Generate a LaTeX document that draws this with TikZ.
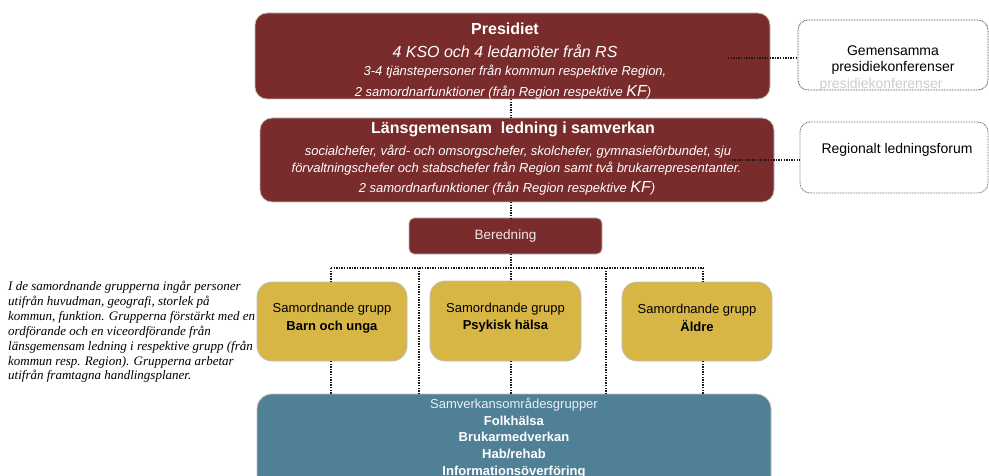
\documentclass[tikz,border=0pt]{standalone}
\usepackage{fontspec}
\setmainfont{Liberation Sans}
\newfontfamily\notefont{Liberation Serif}
\usepackage{tikz}
\usetikzlibrary{positioning}
\definecolor{RodLedning}{RGB}{122,44,44}
\definecolor{GulGrupp}{RGB}{216,182,70}
\definecolor{BlaSamverkan}{RGB}{80,128,150}
\definecolor{LjusRod}{RGB}{242,230,230}
\definecolor{LjusBla}{RGB}{232,240,244}
\newcommand{\fsz}[1]{\fontsize{#1}{#1}\selectfont}

\begin{document}
\begin{tikzpicture}[x=1pt,y=-1pt,
  box/.style={rectangle,inner sep=0pt,outer sep=0pt,draw=black!25,line width=0.8pt},
  redbox/.style={box,fill=RodLedning,rounded corners=12pt},
  goldbox/.style={box,fill=GulGrupp,rounded corners=15pt},
  bluebox/.style={box,fill=BlaSamverkan,rounded corners=15pt},
  forumbox/.style={rectangle,inner sep=0pt,outer sep=0pt,fill=white,rounded corners=10pt,
    line width=0.8pt,dash pattern=on 0.8pt off 0.8pt},
  conn/.style={line width=1.4pt,dash pattern=on 1.4pt off 1.2pt,black!90},
  wtext/.style={text=white,inner sep=0pt}]
  \useasboundingbox (0,0) rectangle (989,476);
  \clip (0,0) rectangle (989,476);

  % styrande nivaer
  \node[redbox,minimum width=515pt,minimum height=86pt] (pres) at (512.5,56) {};
  \node[redbox,minimum width=514pt,minimum height=84pt] (lans) at (517,160) {};
  \node[redbox,rounded corners=5pt,minimum width=193pt,minimum height=36pt,
    text=LjusRod,font=\fsz{13.5}] (ber) at (505.5,236) {Beredning};

  \node[wtext,font=\fsz{16}\bfseries] (presT1) at (505,29) {Presidiet};
  \node[wtext,font=\fsz{16}\itshape] (presT2) at (505,51) {4 KSO och 4 ledamöter från RS};
  \node[wtext,font=\fsz{13}\itshape] (presT3) at (515,72) {3-4 tjänstepersoner från kommun respektive Region,};
  \node[wtext,font=\fsz{13}\itshape] (presT4) at (503,92) {2 samordnarfunktioner (från Region respektive {\fsz{16}KF})};

  \node[wtext,font=\fsz{16}\bfseries] (lansT1) at (513,129) {Länsgemensam\ \ ledning i samverkan};
  \node[wtext,font=\fsz{13}\itshape] (lansT2) at (518,152) {socialchefer, vård- och omsorgschefer, skolchefer, gymnasieförbundet, sju};
  \node[wtext,font=\fsz{13}\itshape] (lansT3) at (516.5,169) {förvaltningschefer och stabschefer från Region samt två brukarrepresentanter.};
  \node[wtext,font=\fsz{13}\itshape] (lansT4) at (507,188) {2 samordnarfunktioner (från Region respektive {\fsz{16}KF})};

  % forum till hoger
  \node[forumbox,draw=black!75,minimum width=190pt,minimum height=70pt] (gem) at (893,55) {};
  \node[text=black!20,font=\fsz{14},inner sep=0pt] (gemG) at (881,85) {presidiekonferenser};
  \node[font=\fsz{14},align=center,inner sep=0pt] (gemT) at (893,60) {Gemensamma\\[2pt]presidiekonferenser};
  \node[forumbox,draw=black!60,minimum width=188pt,minimum height=71pt] (reg) at (894,157.5) {};
  \node[font=\fsz{14},inner sep=0pt] (regT) at (897,150) {Regionalt ledningsforum};

  % samordnande grupper
  \node[goldbox,minimum width=150pt,minimum height=79pt] (barn) at (332,321.5) {};
  \node[goldbox,minimum width=151pt,minimum height=80pt] (psyk) at (505.5,321) {};
  \node[goldbox,minimum width=150pt,minimum height=79pt] (aldre) at (697,321.5) {};
  \node[font=\fontsize{13}{17.5}\selectfont,align=center,inner sep=0pt] (barnT) at (332,318)
    {Samordnande\ grupp\\\textbf{Barn och unga}};
  \node[font=\fontsize{13}{17.5}\selectfont,align=center,inner sep=0pt] (psykT) at (505.5,317.5)
    {Samordnande\ grupp\\\textbf{Psykisk hälsa}};
  \node[font=\fontsize{13}{17.5}\selectfont,align=center,inner sep=0pt] (aldreT) at (697,318)
    {Samordnande\ grupp\\\textbf{Äldre}};

  \node[bluebox,minimum width=514pt,minimum height=110pt] (samv) at (514,449) {};
  \node[text=white,font=\fontsize{13}{16.6}\selectfont,align=center,inner sep=0pt,anchor=north] (samvT) at (514,398)
    {{\color{LjusBla}Samverkansområdesgrupper}\\\textbf{Folkhälsa}\\\textbf{Brukarmedverkan}\\\textbf{Hab/rehab}\\\textbf{Informationsöverföring}};

  % not till vanster
  \node[font=\fontsize{13}{14.9}\selectfont\notefont\itshape,align=left,inner sep=0pt,anchor=north west] (not) at (8,281)
    {I de samordnande grupperna ingår personer\\
     utifrån huvudman, geografi, storlek på\\
     kommun, funktion. Grupperna förstärkt med en\\
     ordförande och en viceordförande från\\
     länsgemensam ledning i respektive grupp (från\\
     kommun resp. Region). Grupperna arbetar\\
     utifrån framtagna handlingsplaner.};

  % kopplingar
  \coordinate (presR) at (728,58);
  \coordinate (lansR) at (729,160);
  \coordinate (bus) at (511,268);
  \coordinate (busL) at (331,268);
  \coordinate (busR) at (703,268);
  \coordinate (busA) at (419,268);
  \coordinate (busB) at (606,268);
  \draw[conn] (presR) -- (presR -| gem.west);
  \draw[conn] (lansR) -- (lansR -| reg.west);
  \draw[conn] (pres.south -| bus) -- (lans.north -| bus);
  \draw[conn] (lans.south -| bus) -- (ber.north -| bus);
  \draw[conn] (ber.south -| bus) -- (bus);
  \draw[conn] (busL) -- (busR);
  \draw[conn] (busL) -- (busL |- barn.north);
  \draw[conn] (bus) -- (bus |- psyk.north);
  \draw[conn] (busR) -- (busR |- aldre.north);
  \draw[conn] (busA) -- (busA |- samv.north);
  \draw[conn] (busB) -- (busB |- samv.north);
  \draw[conn] (busL |- barn.south) -- (busL |- samv.north);
  \draw[conn] (bus |- psyk.south) -- (bus |- samv.north);
  \draw[conn] (busR |- aldre.south) -- (busR |- samv.north);
\end{tikzpicture}
\end{document}
